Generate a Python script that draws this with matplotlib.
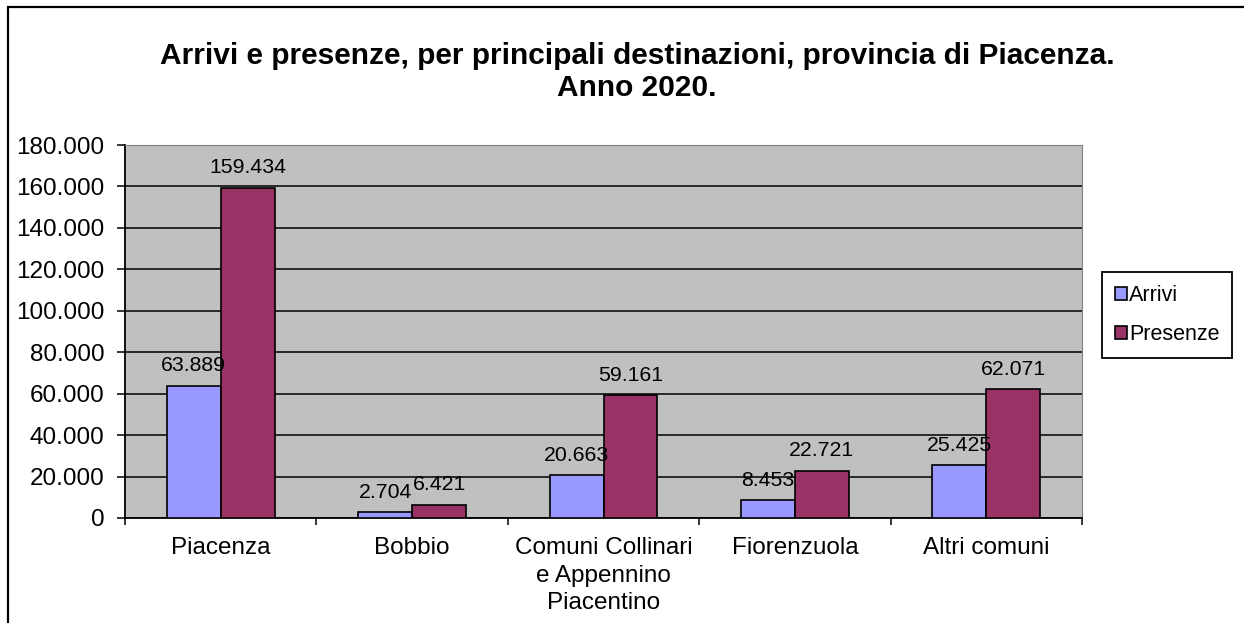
import matplotlib.pyplot as plt
from matplotlib.patches import Rectangle
import numpy as np

plt.rcParams['font.family'] = ['Liberation Sans', 'DejaVu Sans']

categories = ["Piacenza", "Bobbio", "Comuni Collinari\ne Appennino\nPiacentino",
              "Fiorenzuola", "Altri comuni"]
arrivi = [63889, 2704, 20663, 8453, 25425]
presenze = [159434, 6421, 59161, 22721, 62071]
yticks = [0, 20000, 40000, 60000, 80000, 100000, 120000, 140000, 160000, 180000]


def fmt(v):
    return f"{v:,}".replace(",", ".")


fig = plt.figure(figsize=(12.44, 6.23), dpi=100)
ax = fig.add_axes([125 / 1244, 1 - 518 / 623, (1082 - 125) / 1244, (518 - 145) / 623])
ax.set_facecolor('#C0C0C0')

x = np.arange(len(categories))
w = 0.282
b1 = ax.bar(x - w / 2, arrivi, w, color='#9999FF', edgecolor='black', linewidth=1.2,
            label='Arrivi', zorder=3)
b2 = ax.bar(x + w / 2, presenze, w, color='#993366', edgecolor='black', linewidth=1.2,
            label='Presenze', zorder=3)

for bars, vals in [(b1, arrivi), (b2, presenze)]:
    for bar, v in zip(bars, vals):
        ax.annotate(fmt(v), (bar.get_x() + bar.get_width() / 2, v),
                    xytext=(0, 14.5), textcoords='offset points',
                    ha='center', va='center', fontsize=15.3, zorder=4)

ax.set_xlim(-0.5, len(categories) - 0.5)
ax.set_ylim(0, 180000)
ax.set_yticks(yticks)
ax.set_yticklabels([fmt(v) for v in yticks], fontsize=17.5)
ax.yaxis.grid(True, color='black', linewidth=1.1, zorder=1)
ax.tick_params(axis='y', direction='out', length=6, width=1.1, pad=9)

ax.set_xticks(x)
ax.set_xticklabels(categories, fontsize=17.5, linespacing=1.32)
ax.set_xticks(np.arange(len(categories) + 1) - 0.5, minor=True)
ax.tick_params(axis='x', which='major', length=0, pad=14)
ax.tick_params(axis='x', which='minor', direction='out', length=5, width=1.1)

ax.spines['left'].set_color('black')
ax.spines['bottom'].set_color('black')
ax.spines['left'].set_linewidth(1.3)
ax.spines['bottom'].set_linewidth(1.3)
ax.spines['top'].set_color('#808080')
ax.spines['right'].set_color('#808080')

leg = ax.legend(loc='upper left', bbox_to_anchor=(1102 / 1244, 1 - 272 / 623),
                bbox_transform=fig.transFigure, fontsize=15.5, handlelength=0.55,
                handleheight=0.55, handletextpad=0.1, labelspacing=0.85,
                borderpad=0.6, borderaxespad=0, fancybox=False, edgecolor='black',
                framealpha=1)
leg.get_frame().set_linewidth(1.3)
for h in leg.legend_handles:
    h.set_edgecolor('black')

fig.text(637 / 1244, 1 - 64 / 623,
         "Arrivi e presenze, per principali destinazioni, provincia di Piacenza.",
         ha='center', va='baseline', fontsize=21.5, fontweight='bold')
fig.text(637 / 1244, 1 - 96 / 623, "Anno 2020.",
         ha='center', va='baseline', fontsize=21.5, fontweight='bold')

fig.patches.append(Rectangle((8 / 1244, -0.1), 1.2, 1.1 - 7 / 623, transform=fig.transFigure,
                             fill=False, edgecolor='black', linewidth=1.6))

plt.savefig("out.png", dpi=100)
